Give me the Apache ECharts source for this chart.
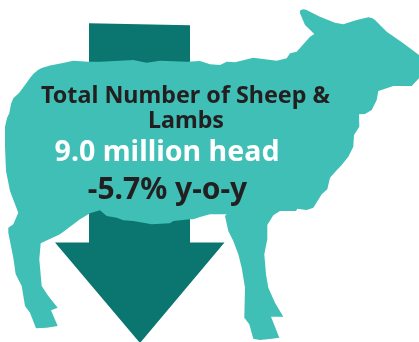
<!DOCTYPE html>
<html>
<head>
<meta charset="utf-8">
<style>html,body{margin:0;padding:0;background:#fff}#c{width:419px;height:342px}</style>
<script src="https://cdn.jsdelivr.net/npm/echarts@6/dist/echarts.min.js"></script>
</head>
<body>
<div id="c"></div>
<script>
// Headline figures
const headlineLines = ['Total Number of Sheep &', 'Lambs'];
const herdMillions = 9.0;
const changePercent = -5.7;

// Sheep silhouette, clockwise from the ear tip
const sheepOutline = [
  [300,10.5],[303,9.3],[306,9.8],[320,16.7],[335,22.7],[343.3,24.3],[356.7,20],[368.3,17.3],[372,18],[375,20],
  [386.7,31.7],[403.3,43.3],[419,55],[419,78.3],[411.7,86],[405,86],[393.3,86],[378.3,91],
  [376.7,100],[371.7,110],[365,114],[359,114.3],[359.3,126.7],[354,135],[353.3,146.7],
  [348.3,156.7],[341.7,165],[336,171],[330,177.7],[327.3,189.3],[321.7,194.3],[313.3,207.7],
  [306.7,210],[297.3,208.7],[296,211],[280,211],[273.3,215.3],[267.3,225],[267.3,239.3],
  [264.3,254.3],[266,274.3],[268.3,287.7],[275,302.7],[283.3,316.7],[271,316.7],[279.3,337.7],
  [271.7,338.7],[260,340],[253.3,338.7],[249.3,324.3],[244.3,317.7],[245,287.7],[241.7,267.7],
  [238.3,254.3],[233.3,241],[228.3,231],[225,216],[226.7,214.3],[210,214.3],[200,217],
  [193.3,219.3],[190,219.3],[173.3,221],[170,223.3],[151.7,224.3],[133.3,221],[123.3,220.3],
  [116.7,217.7],[106.7,216],[100,210.3],[90,213.3],[80,219.3],[66.7,229.3],[60,234.3],
  [40.7,243.3],[39.3,259.3],[41.7,286],[48.3,296],[57.7,307.7],[51,310.3],[57.7,326],
  [46.7,327.7],[36,328.3],[30,312.7],[25,306],[21.7,286],[15.7,274.3],[13.3,257.7],[8.3,232.7],
  [8.3,227.7],[13.3,224.3],[18.3,212.7],[15,204.3],[10,191],[6,171],[5,146.7],[5,126.7],
  [7,118],[9.3,113.3],[11,104],[13.3,98.3],[19,93],[25,85],[30,78],[33.3,74],[38,70],[41.7,68],[50,65.5],[61.7,63.3],[73.3,60.7],[88.3,61.7],
  [100,61.7],[115,61],[133.3,60],[146.7,62.7],[160,60.7],[186.7,61.7],[200,61],[210,64.3],
  [220,65],[226.7,61.7],[235,62.3],[253.3,57.7],[276.7,60.7],[286.7,58.3],[290,53.3],
  [296.7,51.7],[310,36.7],[314.3,34],[305,25],[300,13.3]
];

// Down arrow sitting behind the sheep
const arrowOutline = [
  [89,23.3],[190,25.3],[190,242.5],[224.5,242.5],[140,343],[55,242.5],[89,242.5]
];

const TEAL = '#3fbfb5';
const DEEP_TEAL = '#0b7570';
const INK = '#231f20';
const FONT = '"Noto Sans", sans-serif';

function label(text, x, y, size, fill) {
  return {
    type: 'text', x: x, y: y, z: 10,
    style: { text: text, fill: fill, font: 'bold ' + size + 'px ' + FONT,
             textAlign: 'center', textVerticalAlign: 'middle' }
  };
}

const chart = echarts.init(document.getElementById('c'), null, { renderer: 'canvas' });
chart.setOption({
  animation: false,
  backgroundColor: '#fff',
  graphic: { elements: [
    { type: 'polygon', z: 1, shape: { points: arrowOutline }, style: { fill: DEEP_TEAL } },
    { type: 'polygon', z: 2, shape: { points: sheepOutline }, style: { fill: TEAL } },
    label(headlineLines[0], 185.5, 96, 23.3, INK),
    label(headlineLines[1], 186, 121, 23.3, INK),
    label(herdMillions.toFixed(1) + ' million head', 167, 153, 28.6, '#ffffff'),
    label('-' + Math.abs(changePercent).toFixed(1) + '% y-o-y', 167.5, 190, 30, INK)
  ] }
});
</script>
</body>
</html>
